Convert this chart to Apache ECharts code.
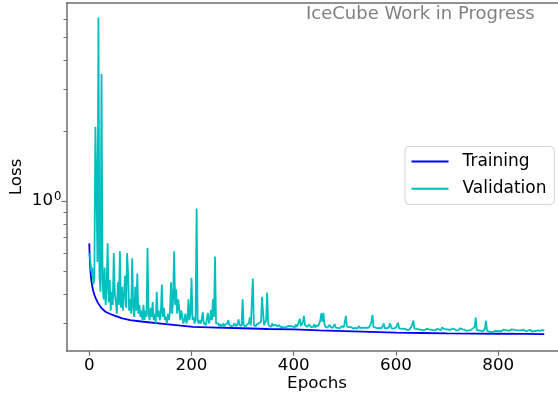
<!DOCTYPE html>
<html>
<head>
<meta charset="utf-8">
<script src="https://cdn.jsdelivr.net/npm/echarts@6/dist/echarts.min.js"></script>
<style>
  html, body { margin: 0; padding: 0; background: #fff; }
  #chart { width: 558px; height: 402px; }
</style>
</head>
<body>
<div id="chart"></div>
<script>
// Training loss (smooth curve), sampled at these epochs
const trainingEpochs = [0, 1, 2, 3, 4, 6, 8, 10, 13, 16, 22, 27, 32, 40, 48, 65, 80, 106, 150, 203,
  250, 300, 350, 400, 450, 500, 550, 600, 650, 700, 750, 800, 850, 890];
const trainingLoss = [0.66, 0.57, 0.52, 0.48, 0.46, 0.43, 0.412, 0.398, 0.383, 0.371, 0.353, 0.344, 0.336, 0.330, 0.325, 0.315, 0.310, 0.305, 0.298, 0.290,
  0.288, 0.286, 0.284, 0.283, 0.280, 0.278, 0.276, 0.274, 0.273, 0.272, 0.2715, 0.271, 0.2705, 0.270];

// Validation loss, one value every VAL_EPOCH_STEP epochs starting at epoch 0
const VAL_EPOCH_STEP = 2;
const validationLoss = [
  0.60, 0.56, 0.50, 0.52, 0.44, 0.47, 2.08, 1.19, 0.55, 6.10,
  0.48, 0.41, 3.50, 0.46, 0.38, 0.52, 0.36, 0.43, 0.66, 0.37,
  0.46, 0.34, 0.41, 0.36, 0.60, 0.40, 0.37, 0.33, 0.45, 0.36,
  0.61, 0.35, 0.43, 0.34, 0.40, 0.48, 0.35, 0.60, 0.49, 0.34,
  0.38, 0.33, 0.57, 0.35, 0.32, 0.43, 0.34, 0.49, 0.33, 0.36,
  0.32, 0.34, 0.31, 0.36, 0.31, 0.34, 0.32, 0.63, 0.33, 0.31,
  0.35, 0.32, 0.37, 0.31, 0.33, 0.30, 0.41, 0.32, 0.34, 0.31,
  0.33, 0.44, 0.32, 0.35, 0.31, 0.32, 0.30, 0.33, 0.31, 0.34,
  0.45, 0.33, 0.38, 0.61, 0.36, 0.42, 0.33, 0.38, 0.35, 0.31,
  0.34, 0.32, 0.30, 0.31, 0.33, 0.30, 0.31, 0.38, 0.31, 0.33,
  0.47, 0.31, 0.32, 0.30, 0.31, 0.93, 0.31, 0.30, 0.31, 0.30,
  0.31, 0.335, 0.30, 0.305, 0.295, 0.30, 0.333, 0.30, 0.31, 0.342,
  0.31, 0.38, 0.32, 0.58, 0.30, 0.295, 0.30, 0.292, 0.298, 0.29,
  0.295, 0.30, 0.29, 0.297, 0.293, 0.30, 0.31, 0.295, 0.298, 0.292,
  0.297, 0.293, 0.30, 0.296, 0.292, 0.298, 0.312, 0.295, 0.30, 0.293,
  0.38, 0.295, 0.298, 0.29, 0.296, 0.293, 0.30, 0.318, 0.294, 0.297,
  0.467, 0.295, 0.30, 0.292, 0.298, 0.293, 0.30, 0.296, 0.305, 0.39,
  0.333, 0.295, 0.30, 0.31, 0.407, 0.30, 0.293, 0.297, 0.29, 0.30,
  0.293, 0.29, 0.296, 0.298, 0.292, 0.29, 0.295, 0.289, 0.293, 0.29,
  0.294, 0.288, 0.292, 0.29, 0.287, 0.293, 0.289, 0.292, 0.288, 0.291,
  0.294, 0.288, 0.297, 0.29, 0.296, 0.30, 0.314, 0.292, 0.298, 0.305,
  0.323, 0.295, 0.30, 0.29, 0.293, 0.297, 0.30, 0.289, 0.292, 0.29,
  0.298, 0.288, 0.294, 0.29, 0.292, 0.30, 0.31, 0.331, 0.305, 0.333,
  0.30, 0.29, 0.294, 0.288, 0.291, 0.296, 0.289, 0.293, 0.287, 0.29,
  0.298, 0.288, 0.292, 0.287, 0.29, 0.286, 0.289, 0.292, 0.287, 0.289,
  0.29, 0.323, 0.291, 0.287, 0.289, 0.286, 0.29, 0.288, 0.285, 0.29,
  0.287, 0.289, 0.285, 0.288, 0.292, 0.286, 0.284, 0.288, 0.285, 0.287,
  0.284, 0.288, 0.285, 0.287, 0.29, 0.295, 0.305, 0.326, 0.29, 0.285,
  0.288, 0.284, 0.286, 0.283, 0.287, 0.284, 0.286, 0.29, 0.30, 0.286,
  0.283, 0.286, 0.284, 0.288, 0.30, 0.295, 0.285, 0.283, 0.286, 0.284,
  0.288, 0.29, 0.302, 0.286, 0.283, 0.285, 0.282, 0.284, 0.282, 0.285,
  0.283, 0.281, 0.284, 0.282, 0.285, 0.29, 0.295, 0.308, 0.285, 0.282,
  0.284, 0.281, 0.283, 0.286, 0.282, 0.284, 0.281, 0.283, 0.28, 0.282,
  0.285, 0.281, 0.283, 0.28, 0.282, 0.285, 0.281, 0.283, 0.28, 0.282,
  0.284, 0.281, 0.283, 0.285, 0.281, 0.288, 0.292, 0.284, 0.281, 0.283,
  0.281, 0.283, 0.286, 0.281, 0.283, 0.285, 0.281, 0.284, 0.282, 0.28,
  0.283, 0.281, 0.284, 0.286, 0.281, 0.283, 0.28, 0.282, 0.281, 0.279,
  0.282, 0.28, 0.278, 0.281, 0.283, 0.285, 0.283, 0.29, 0.318, 0.28,
  0.278, 0.28, 0.277, 0.279, 0.281, 0.278, 0.28, 0.285, 0.308, 0.28,
  0.277, 0.276, 0.278, 0.276, 0.277, 0.275, 0.277, 0.279, 0.276, 0.278,
  0.277, 0.279, 0.281, 0.278, 0.28, 0.282, 0.279, 0.281, 0.278, 0.28,
  0.282, 0.279, 0.281, 0.283, 0.28, 0.282, 0.279, 0.281, 0.283, 0.28,
  0.282, 0.28, 0.278, 0.281, 0.279, 0.282, 0.28, 0.278, 0.281, 0.279,
  0.28, 0.282, 0.279, 0.277, 0.28, 0.278, 0.281, 0.279, 0.278, 0.28,
  0.282, 0.279, 0.278, 0.281, 0.279, 0.28
];

// Axis ticks
const xTickValues = [0, 200, 400, 600, 800];
const yMajorTicks = [1];
const yMinorTicks = [0.3, 0.4, 0.5, 0.6, 0.7, 0.8, 0.9, 2, 3, 4, 5, 6];

const FONT = 'DejaVu Sans';
const SPINE = '#6e6e6e';

const trainingData = trainingEpochs.map((e, i) => [e, trainingLoss[i]]);
const validationData = validationLoss.map((v, i) => [i * VAL_EPOCH_STEP, v]);

const chart = echarts.init(document.getElementById('chart'), null, { renderer: 'canvas' });

const X_MIN = -44.5, X_MAX = 935.5;
const Y_MIN = 0.2293, Y_MAX = 7.04;

chart.setOption({
  animation: false,
  backgroundColor: '#ffffff',
  textStyle: { fontFamily: FONT },
  title: {
    text: 'IceCube Work in Progress',
    left: 306,
    top: 5,
    padding: 0,
    textStyle: { fontFamily: FONT, fontSize: 18, fontWeight: 'normal', color: '#808080' }
  },
  grid: {
    left: 66.5, right: -9.5, top: 3, bottom: 51.3,
    containLabel: false,
    outerBoundsMode: 'none'
  },
  legend: {
    orient: 'vertical',
    left: 405,
    top: 146.5,
    padding: [6.5, 8, 7, 6.5],
    itemGap: 10.3,
    itemWidth: 37,
    itemHeight: 2,
    icon: 'rect',
    borderColor: '#d3d3d3',
    borderWidth: 1,
    borderRadius: 4,
    backgroundColor: 'rgba(255,255,255,0.8)',
    textStyle: { fontFamily: FONT, fontSize: 17, color: '#000', lineHeight: 17, padding: [0, 0, 0, 9] },
    data: ['Training', 'Validation']
  },
  xAxis: [
    {
      type: 'value',
      min: X_MIN,
      max: X_MAX,
      name: 'Epochs',
      nameLocation: 'middle',
      nameGap: 24,
      nameMoveOverlap: false,
      nameTextStyle: { fontFamily: FONT, fontSize: 16.7, color: '#000' },
      axisLine: { show: true, onZero: false, lineStyle: { color: SPINE, width: 1.5 } },
      axisTick: { show: true, length: 5, customValues: xTickValues, lineStyle: { color: SPINE, width: 1.2 } },
      axisLabel: { customValues: xTickValues, fontFamily: FONT, fontSize: 16.7, color: '#000', margin: 6 },
      splitLine: { show: false }
    },
    {
      type: 'value',
      position: 'top',
      min: X_MIN,
      max: X_MAX,
      axisLine: { show: true, onZero: false, lineStyle: { color: SPINE, width: 1.5 } },
      axisTick: { show: false },
      axisLabel: { show: false },
      splitLine: { show: false }
    }
  ],
  yAxis: [
    {
      type: 'log',
      logBase: 10,
      min: Y_MIN,
      max: Y_MAX,
      name: 'Loss',
      nameLocation: 'middle',
      nameGap: 41,
      nameMoveOverlap: false,
      nameTextStyle: { fontFamily: FONT, fontSize: 16.7, color: '#000' },
      axisLine: { show: true, onZero: false, lineStyle: { color: SPINE, width: 1.5 } },
      axisTick: { show: true, length: 5, customValues: yMajorTicks, lineStyle: { color: SPINE, width: 1.2 } },
      axisLabel: {
        customValues: yMajorTicks,
        margin: 5,
        formatter: (v) => '{b|10}{s|' + Math.round(Math.log10(v)) + '}',
        rich: {
          b: { fontFamily: FONT, fontSize: 16.7, color: '#000' },
          s: { fontFamily: FONT, fontSize: 11.7, color: '#000', padding: [0, 0, 8, 1] }
        }
      },
      splitLine: { show: false },
      minorTick: { show: false }
    },
    {
      type: 'log',
      logBase: 10,
      position: 'left',
      min: Y_MIN,
      max: Y_MAX,
      axisLine: { show: false, onZero: false },
      axisTick: { show: true, length: 3, customValues: yMinorTicks, lineStyle: { color: SPINE, width: 1 } },
      axisLabel: { show: false },
      splitLine: { show: false }
    }
  ],
  series: [
    {
      name: 'Training',
      type: 'line',
      data: trainingData,
      xAxisIndex: 0,
      yAxisIndex: 0,
      symbol: 'none',
      color: '#0000ff',
      itemStyle: { color: '#0000ff' },
      lineStyle: { color: '#0000ff', width: 1.8 },
      z: 2
    },
    {
      name: 'Validation',
      type: 'line',
      data: validationData,
      xAxisIndex: 0,
      yAxisIndex: 0,
      symbol: 'none',
      color: '#00bfbf',
      itemStyle: { color: '#00bfbf' },
      lineStyle: { color: '#00bfbf', width: 1.8 },
      z: 3
    }
  ]
});
</script>
</body>
</html>
